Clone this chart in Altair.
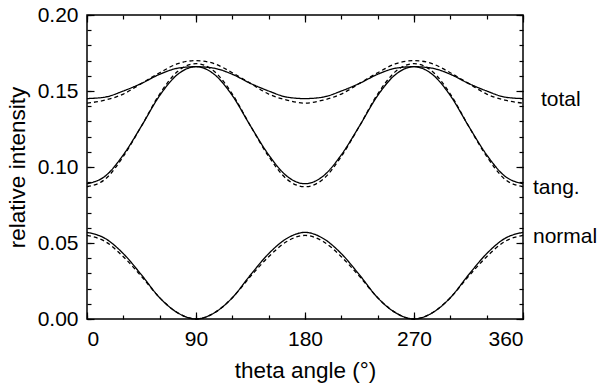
import altair as alt
import pandas as pd

theta = [0, 15, 30, 45, 60, 75, 90, 105, 120, 135, 150, 165, 180,
         195, 210, 225, 240, 255, 270, 285, 300, 315, 330, 345, 360]

total_solid = [0.145, 0.146, 0.150, 0.155, 0.161, 0.165, 0.166, 0.165, 0.161, 0.155, 0.150, 0.146, 0.145,
               0.146, 0.150, 0.155, 0.161, 0.165, 0.166, 0.165, 0.161, 0.155, 0.150, 0.146, 0.145]
total_dash = [0.142, 0.144, 0.148, 0.155, 0.162, 0.168, 0.170, 0.168, 0.162, 0.155, 0.148, 0.144, 0.142,
              0.144, 0.148, 0.155, 0.162, 0.168, 0.170, 0.168, 0.162, 0.155, 0.148, 0.144, 0.142]
tang_solid = [0.089, 0.094, 0.108, 0.127, 0.147, 0.161, 0.166, 0.161, 0.147, 0.127, 0.108, 0.094, 0.089,
              0.094, 0.108, 0.127, 0.147, 0.161, 0.166, 0.161, 0.147, 0.127, 0.108, 0.094, 0.089]
tang_dash = [0.087, 0.092, 0.107, 0.127, 0.148, 0.163, 0.168, 0.163, 0.148, 0.127, 0.107, 0.092, 0.087,
             0.092, 0.107, 0.127, 0.148, 0.163, 0.168, 0.163, 0.148, 0.127, 0.107, 0.092, 0.087]
normal_solid = [0.057, 0.053, 0.043, 0.029, 0.014, 0.004, 0.000, 0.004, 0.014, 0.029, 0.043, 0.053, 0.057,
                0.053, 0.043, 0.029, 0.014, 0.004, 0.000, 0.004, 0.014, 0.029, 0.043, 0.053, 0.057]
normal_dash = [0.055, 0.051, 0.041, 0.028, 0.014, 0.004, 0.000, 0.004, 0.014, 0.028, 0.041, 0.051, 0.055,
               0.051, 0.041, 0.028, 0.014, 0.004, 0.000, 0.004, 0.014, 0.028, 0.041, 0.051, 0.055]

label_text = ["total", "tang.", "normal"]
label_y = [0.144, 0.086, 0.054]
label_x = [360, 360, 360]
label_dx = [18, 10, 10]

x_major = [0, 90, 180, 270, 360]
x_minor = [0, 30, 60, 90, 120, 150, 180, 210, 240, 270, 300, 330, 360]
y_major = [0.0, 0.05, 0.10, 0.15, 0.20]
y_minor = [round(i * 0.01, 2) for i in range(21)]

series = [("total", "solid", total_solid), ("total", "dash", total_dash),
          ("tang", "solid", tang_solid), ("tang", "dash", tang_dash),
          ("normal", "solid", normal_solid), ("normal", "dash", normal_dash)]
rows = []
for name, sty, vals in series:
    for t, v in zip(theta, vals):
        rows.append({"theta": t, "value": v, "series": name + "_" + sty, "style": sty})
df = pd.DataFrame(rows)
lab = pd.DataFrame({"theta": label_x, "value": label_y, "text": label_text, "dx": label_dx})

FONT = "Liberation Sans"
W, H = 436, 304
xs = alt.Scale(domain=[0, 360], nice=False, zero=False)
ys = alt.Scale(domain=[0, 0.2], nice=False, zero=False)

lines = alt.Chart(df).mark_line(color="black", strokeWidth=1.3, interpolate="monotone").encode(
    x=alt.X("theta:Q", scale=xs, axis=alt.Axis(
        values=x_major, ticks=False, domain=False, grid=False, labelFontSize=21, labelFont=FONT,
        labelColor="black", labelPadding=9, title="theta angle (°)", titleFontSize=22.5,
        titleFont=FONT, titleFontWeight="normal", titleColor="black", titlePadding=10)),
    y=alt.Y("value:Q", scale=ys, axis=alt.Axis(
        values=y_major, format=".2f", ticks=False, domain=False, grid=False, labelFontSize=21,
        labelFont=FONT, labelColor="black", labelPadding=9, title="relative intensity",
        titleFontSize=22.5, titleFont=FONT, titleFontWeight="normal", titleColor="black",
        titlePadding=8)),
    detail="series:N",
    strokeDash=alt.StrokeDash("style:N", scale=alt.Scale(domain=["solid", "dash"],
                                                         range=[[1, 0], [4, 3]]), legend=None),
)


def tick_layer(xorient, xoff, yorient, yoff, xv, yv, size):
    return alt.Chart(df).mark_point(opacity=0).encode(
        x=alt.X("theta:Q", scale=xs, axis=alt.Axis(
            orient=xorient, offset=xoff, values=xv, labels=False, domain=False, grid=False,
            title=None, tickSize=size, tickColor="black", tickWidth=1.2)),
        y=alt.Y("value:Q", scale=ys, axis=alt.Axis(
            orient=yorient, offset=yoff, values=yv, labels=False, domain=False, grid=False,
            title=None, tickSize=size, tickColor="black", tickWidth=1.2)),
    )


t1 = tick_layer("top", -H, "right", -W, x_major, y_major, 7)
t2 = tick_layer("top", -H, "right", -W, x_minor, y_minor, 4)
t3 = tick_layer("bottom", -H, "left", -W, x_major, y_major, 7)
t4 = tick_layer("bottom", -H, "left", -W, x_minor, y_minor, 4)

labels = alt.layer(*[
    alt.Chart(lab.iloc[[i]]).mark_text(align="left", baseline="middle", fontSize=21, font=FONT,
                                       color="black", dx=int(label_dx[i])).encode(
        x=alt.X("theta:Q", scale=xs, axis=None),
        y=alt.Y("value:Q", scale=ys, axis=None),
        text="text:N")
    for i in range(len(label_text))
])

chart = alt.layer(lines, t1, t2, t3, t4, labels).resolve_axis(
    x="independent", y="independent"
).properties(
    width=W, height=H,
    autosize=alt.AutoSizeParams(type="none"),
    padding={"left": 87, "top": 15, "right": 79, "bottom": 67},
    background="white",
).configure_view(stroke="black", strokeWidth=1.5)

chart.save("out.html", embed_options={"renderer": "svg", "actions": False})
